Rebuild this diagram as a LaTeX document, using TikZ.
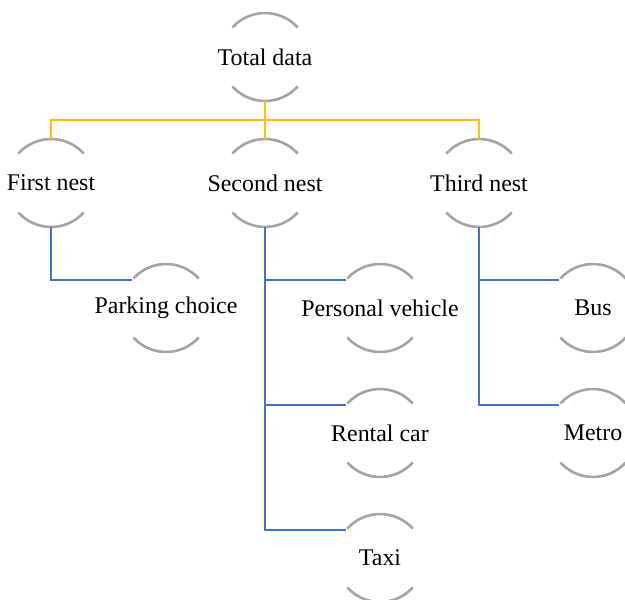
\documentclass[tikz,border=0pt]{standalone}
\usepackage{fontspec}
\setmainfont{Liberation Serif}
\definecolor{ringgray}{HTML}{A5A5A5}
\definecolor{linkblue}{HTML}{4472C4}
\definecolor{linkgold}{HTML}{FFC000}
\begin{document}
\begin{tikzpicture}[x=1bp,y=-1bp,
  ring/.style={circle,minimum size=88bp,inner sep=0pt,outer sep=0pt,draw=none},
  lbl/.style={font=\fontsize{24}{28}\selectfont,inner sep=0pt},
  arcline/.style={draw=ringgray,line width=2.6bp},
  goldlink/.style={draw=linkgold,line width=2.4bp},
  bluelink/.style={draw=linkblue,line width=2.4bp}]
\useasboundingbox (0,0) rectangle (625,600);

% circle positions
\node[ring] (tot) at (265,57) {};
\node[ring] (n1) at (51,183) {};
\node[ring] (n2) at (265,183) {};
\node[ring] (n3) at (479,183) {};
\node[ring] (park) at (166,308) {};
\node[ring] (pers) at (380,308) {};
\node[ring] (rent) at (380,433) {};
\node[ring] (taxi) at (380,558) {};
\node[ring] (bus) at (593,308) {};
\node[ring] (metro) at (593,433) {};

% open rings: an upper and a lower arc
\foreach \n in {tot,n1,n2,n3,park,pers,rent,taxi,bus,metro}{
  \draw[arcline] (\n.138) arc[start angle=138,end angle=42,radius=44bp];
  \draw[arcline] (\n.222) arc[start angle=222,end angle=318,radius=44bp];
}

% labels
\node[lbl] at (tot) {Total data};
\node[lbl] at (n1) {First nest};
\node[lbl] at (n2) {Second nest};
\node[lbl] at (n3) {Third nest};
\node[lbl] at (park) {Parking choice};
\node[lbl] at (pers) {Personal vehicle};
\node[lbl] at (rent) {Rental car};
\node[lbl] at (taxi) {Taxi};
\node[lbl] at (bus) {Bus};
\node[lbl] at (metro) {Metro};

% top level split
\coordinate (split) at (265,120);
\draw[goldlink] (tot.south) -- (split) -- (n2.north);
\draw[goldlink] (n1.north) -- (n1.north |- split) -- (n3.north |- split) -- (n3.north);

% nest branches
\draw[bluelink] (n1.south) |- (park.140);
\draw[bluelink] (n2.south) |- (pers.140);
\draw[bluelink] (n2.south) |- (rent.140);
\draw[bluelink] (n2.south) |- (taxi.140);
\draw[bluelink] (n3.south) |- (bus.140);
\draw[bluelink] (n3.south) |- (metro.140);
\end{tikzpicture}
\end{document}
